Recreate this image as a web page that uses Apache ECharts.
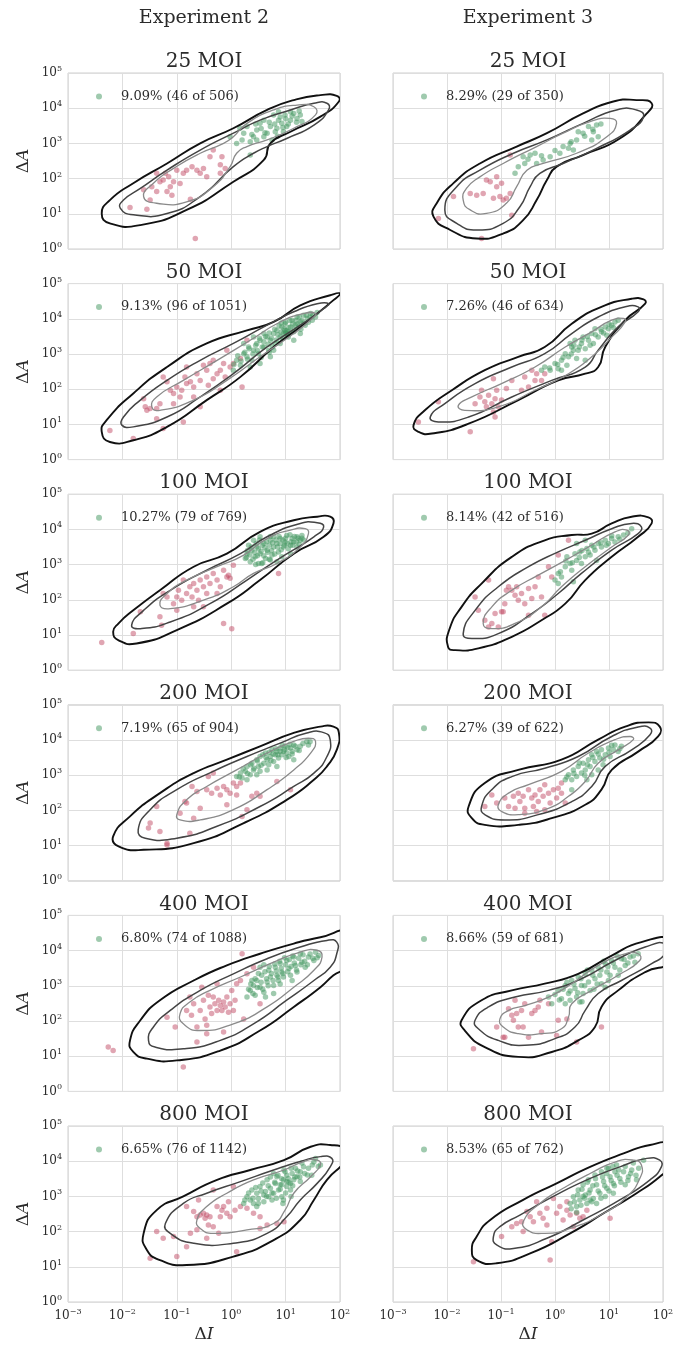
<!DOCTYPE html>
<html>
<head>
<meta charset="utf-8">
<script src="https://cdn.jsdelivr.net/npm/echarts@6/dist/echarts.min.js"></script>
<style>
  html, body { margin: 0; padding: 0; background: #fff; }
  #chart { width: 678px; height: 1349px; }
</style>
</head>
<body>
<div id="chart"></div>
<script>
// Every point and contour vertex is stored as base-10 exponents: [log10 ΔI, log10 ΔA].

const experiments = ['Experiment 2', 'Experiment 3'];
const doses = ['25 MOI', '50 MOI', '100 MOI', '200 MOI', '400 MOI', '800 MOI'];
const exp2Totals = [506, 1051, 769, 904, 1088, 1142];
const exp3Totals = [350, 634, 516, 622, 681, 762];

// ---------- Experiment 2, 25 MOI ----------
const e2m25Red = [[-1.86,1.18],[-1.55,1.13],[-1.61,1.68],[-1.46,1.77],[-1.37,1.63],[-1.31,1.91],[-1.21,2.15],[-1.18,1.63],[-1.12,1.77],[-1.06,1.91],[-1.0,2.24],[-0.94,1.86],[-0.88,2.15],[-0.82,2.24],[-0.72,2.34],[-0.63,2.24],[-0.51,2.29],[-0.39,2.62],[-0.33,2.81],[-0.20,2.39],[-0.17,2.62],[-0.11,2.29],[-0.66,0.30],[-0.75,1.41],[-1.25,1.96],[-1.15,2.05],[-1.37,2.15],[-0.57,2.15],[-0.45,2.05],[-0.20,2.15],[-1.49,1.39],[-1.09,1.53]];
const e2m25Green = [[-0.02,3.19],[0.10,3.0],[0.23,3.29],[0.29,3.48],[0.41,3.19],[0.47,3.38],[0.53,3.57],[0.60,3.66],[0.66,3.29],[0.72,3.48],[0.78,3.81],[0.84,3.43],[0.87,3.66],[0.93,3.57],[0.99,3.81],[1.02,3.48],[1.09,3.66],[1.15,3.85],[1.21,3.71],[1.27,3.81],[1.30,3.62],[0.35,3.05],[0.47,3.10],[0.16,3.43],[0.60,3.19],[0.75,3.10],[0.96,3.33],[0.87,3.90],[0.81,3.33],[1.09,3.90],[0.35,2.67],[0.2,3.1],[0.38,3.25],[0.55,3.42],[0.62,3.3],[0.7,3.6],[0.9,3.75],[0.95,3.45],[1.05,3.55],[1.12,3.78],[1.2,3.6],[1.25,3.92],[0.45,3.55],[0.85,3.2],[0.8,3.55],[1.0,3.7]];
const e2m25Outer = [[-2.38,1.01],[-2.23,0.73],[-1.67,0.68],[-0.82,1.11],[0.04,1.91],[0.60,2.53],[0.72,3.0],[1.09,3.33],[1.64,3.76],[1.98,4.19],[1.94,4.35],[1.64,4.37],[1.15,4.23],[0.66,3.95],[0.04,3.43],[-0.57,3.0],[-1.18,2.43],[-1.80,1.87],[-2.23,1.39]];
const e2m25Mid = [[-2.04,1.16],[-1.80,0.97],[-1.18,1.01],[-0.57,1.49],[0.04,2.34],[0.41,2.72],[0.66,2.91],[1.02,3.14],[1.52,3.52],[1.79,3.95],[1.76,4.14],[1.52,4.14],[1.09,3.95],[0.53,3.66],[0.04,3.29],[-0.57,2.81],[-1.18,2.24],[-1.67,1.72],[-1.98,1.39]];
const e2m25Inner = [[-1.61,1.49],[-1.37,1.30],[-0.82,1.34],[-0.33,1.77],[-0.02,2.34],[0.10,2.72],[0.29,2.91],[0.66,3.10],[1.15,3.43],[1.55,3.81],[1.52,4.04],[1.21,4.09],[0.78,3.95],[0.29,3.57],[0.04,3.19],[-0.14,3.0],[-0.57,2.72],[-1.06,2.29],[-1.43,1.87]];

// ---------- Experiment 3, 25 MOI ----------
const e3m25Red = [[-2.16,0.87],[-1.88,1.49],[-1.57,1.58],[-1.45,1.53],[-1.33,1.58],[-1.27,1.96],[-1.14,1.44],[-1.08,1.77],[-1.02,1.49],[-0.99,1.87],[-0.96,1.39],[-0.90,1.44],[-0.83,1.58],[-0.83,2.67],[-0.80,0.96],[-1.08,2.05],[-1.36,0.30],[-1.20,1.91]];
const e3m25Green = [[-0.74,2.15],[-0.68,2.34],[-0.56,2.43],[-0.46,2.67],[-0.37,2.72],[-0.34,2.43],[-0.22,2.53],[-0.09,2.62],[0.09,2.72],[0.15,2.91],[0.28,3.0],[0.34,2.81],[0.40,3.10],[0.52,3.29],[0.62,3.48],[0.71,3.33],[0.77,3.52],[0.80,3.19],[0.68,3.10],[0.43,3.33],[0.25,2.86],[-0.59,2.62],[-0.5,2.55],[-0.25,2.65],[0.0,2.8],[0.3,3.05],[0.55,3.2],[0.7,3.4],[0.85,3.55]];
const e3m25Outer = [[-2.25,0.92],[-1.94,0.54],[-1.45,0.30],[-0.96,0.44],[-0.59,0.82],[-0.34,1.39],[-0.15,1.96],[0.03,2.34],[0.52,2.67],[1.20,3.14],[1.70,3.85],[1.79,4.14],[1.51,4.23],[1.08,4.19],[0.52,3.85],[-0.15,3.29],[-0.71,2.91],[-1.39,2.43],[-1.88,1.87],[-2.19,1.30]];
const e3m25Mid = [[-2.04,1.11],[-1.82,0.73],[-1.45,0.54],[-0.96,0.73],[-0.65,1.20],[-0.46,1.77],[-0.28,2.15],[0.15,2.43],[0.77,2.86],[1.39,3.38],[1.64,3.76],[1.51,3.95],[1.14,3.95],[0.52,3.57],[-0.15,3.10],[-0.77,2.72],[-1.39,2.24],[-1.82,1.77]];
const e3m25Inner = [[-1.70,1.39],[-1.57,1.11],[-1.27,1.01],[-0.90,1.30],[-0.71,1.77],[-0.52,2.24],[-0.22,2.43],[0.40,2.72],[0.96,3.19],[1.14,3.57],[1.02,3.71],[0.65,3.62],[0.15,3.29],[-0.34,2.91],[-0.96,2.43],[-1.39,2.05],[-1.64,1.72]];

// ---------- Experiment 2, 50 MOI ----------
const e2m50Red = [[-2.23,0.83],[-1.80,0.60],[-1.61,1.73],[-1.58,1.50],[-1.55,1.40],[-1.49,1.45],[-1.37,1.45],[-1.37,1.16],[-1.31,1.59],[-1.25,2.35],[-1.18,2.21],[-1.12,1.97],[-1.06,1.88],[-1.0,2.06],[-0.94,1.78],[-0.91,1.97],[-0.85,2.35],[-0.82,2.16],[-0.75,2.21],[-0.69,2.06],[-0.63,2.44],[-0.57,2.25],[-0.51,2.68],[-0.45,2.54],[-0.42,2.11],[-0.39,2.73],[-0.33,2.82],[-0.26,2.44],[-0.20,2.54],[-0.14,2.73],[-0.11,2.35],[-0.08,3.11],[-0.02,2.63],[0.04,2.73],[0.17,2.87],[0.29,3.39],[-0.57,1.50],[-0.88,1.07],[-1.25,0.88],[-1.06,1.59],[-0.69,1.78],[-0.33,2.30],[-0.82,2.63],[-0.20,1.97],[0.20,2.06]];
const e2m50Green = [[0.04,2.54],[0.10,2.82],[0.17,2.68],[0.23,3.01],[0.29,2.92],[0.32,3.20],[0.38,2.82],[0.41,3.11],[0.47,3.30],[0.50,3.01],[0.53,3.39],[0.60,3.20],[0.66,3.48],[0.69,3.11],[0.72,3.39],[0.78,3.58],[0.81,3.30],[0.84,3.67],[0.90,3.48],[0.93,3.77],[0.96,3.58],[0.99,3.86],[1.02,3.67],[1.05,3.48],[1.09,3.77],[1.12,3.96],[1.15,3.63],[1.18,3.82],[1.21,4.05],[1.24,3.77],[1.27,3.91],[1.33,4.10],[1.36,3.82],[1.40,4.01],[1.46,4.15],[1.49,3.96],[1.55,4.05],[0.99,3.67],[1.05,3.63],[1.02,3.58],[0.60,3.58],[0.41,3.48],[0.23,3.30],[0.78,3.11],[0.90,3.30],[0.53,2.73],[0.72,2.92],[0.35,2.63],[1.15,3.39],[1.27,3.58],[0.05,2.7],[0.12,2.95],[0.18,2.8],[0.25,3.05],[0.3,2.85],[0.33,3.15],[0.4,3.0],[0.45,3.25],[0.48,3.1],[0.52,3.45],[0.57,3.2],[0.6,3.35],[0.63,3.5],[0.68,3.28],[0.7,3.6],[0.74,3.45],[0.76,3.2],[0.8,3.7],[0.83,3.4],[0.86,3.55],[0.88,3.8],[0.92,3.62],[0.95,3.45],[0.97,3.72],[1.0,3.9],[1.03,3.55],[1.06,3.75],[1.08,3.95],[1.1,3.62],[1.13,3.85],[1.16,3.7],[1.19,3.95],[1.22,3.85],[1.25,4.05],[1.28,3.7],[1.3,3.95],[1.34,3.88],[1.38,4.1],[1.42,3.9],[1.45,4.05],[1.5,4.1],[1.58,4.18],[0.92,3.88],[1.0,3.6],[0.7,3.05],[0.55,2.9]];
const e2m50Outer = [[-2.38,0.79],[-2.23,0.50],[-1.80,0.55],[-1.18,0.93],[-0.45,1.69],[0.17,2.35],[0.78,3.20],[1.27,3.77],[1.88,4.53],[2.0,4.72],[1.82,4.67],[1.27,4.38],[0.78,3.91],[0.29,3.67],[-0.45,3.30],[-1.18,2.63],[-1.80,1.88],[-2.29,1.12]];
const e2m50Mid = [[-2.01,0.98],[-1.80,0.93],[-1.18,1.21],[-0.57,1.78],[0.04,2.44],[0.66,3.20],[1.27,3.82],[1.70,4.29],[1.79,4.43],[1.58,4.43],[1.15,4.20],[0.66,3.82],[0.04,3.30],[-0.57,2.82],[-1.18,2.25],[-1.67,1.69],[-1.98,1.21]];
const e2m50Inner = [[-1.46,1.50],[-1.31,1.40],[-0.69,1.69],[-0.08,2.25],[0.53,2.92],[1.15,3.58],[1.49,4.01],[1.55,4.15],[1.33,4.15],[0.90,3.91],[0.35,3.39],[-0.26,2.82],[-0.88,2.25],[-1.37,1.78]];

// ---------- Experiment 3, 50 MOI ----------
const e3m50Red = [[-2.53,1.07],[-2.16,1.64],[-1.57,0.79],[-1.48,1.59],[-1.39,1.78],[-1.36,1.97],[-1.30,1.64],[-1.27,1.50],[-1.23,1.83],[-1.17,1.59],[-1.14,1.35],[-1.11,1.73],[-1.08,1.97],[-1.05,1.50],[-1.14,2.30],[-0.99,1.69],[-0.90,2.02],[-0.80,2.25],[-0.62,1.97],[-0.56,2.35],[-0.49,2.06],[-0.43,2.54],[-0.37,2.25],[-0.25,2.25],[-0.19,2.44],[-1.11,1.21],[-0.34,2.44]];
const e3m50Green = [[-0.25,2.54],[-0.19,2.63],[-0.09,2.54],[0.0,2.73],[0.06,2.58],[0.12,2.82],[0.19,3.01],[0.25,2.92],[0.31,3.20],[0.34,3.11],[0.37,3.39],[0.43,3.11],[0.49,3.30],[0.52,3.48],[0.56,3.15],[0.62,3.39],[0.68,3.58],[0.71,3.30],[0.80,3.48],[0.86,3.63],[0.93,3.77],[0.96,3.53],[1.05,3.82],[1.11,3.91],[1.17,3.96],[0.28,3.30],[0.40,2.87],[0.12,2.54],[0.74,3.72],[0.99,3.72],[0.22,2.68],[0.56,2.82],[-0.1,2.6],[0.05,2.7],[0.15,2.9],[0.3,3.0],[0.35,3.25],[0.45,3.2],[0.5,3.4],[0.6,3.5],[0.65,3.25],[0.75,3.55],[0.85,3.7],[0.9,3.6],[1.0,3.85],[1.08,3.75]];
const e3m50Outer = [[-2.62,0.98],[-2.53,0.79],[-2.28,0.74],[-1.60,1.02],[-0.68,1.69],[0.06,2.25],[0.56,2.44],[0.80,2.63],[0.93,3.20],[1.30,3.96],[1.67,4.43],[1.64,4.55],[1.42,4.57],[0.86,4.34],[0.31,3.86],[-0.19,3.20],[-0.68,2.92],[-1.30,2.54],[-1.91,1.97],[-2.41,1.40]];
const e3m50Mid = [[-2.31,1.21],[-2.16,1.07],[-1.60,1.21],[-0.80,1.78],[-0.06,2.25],[0.56,2.63],[0.80,3.11],[1.17,3.77],[1.54,4.20],[1.54,4.34],[1.30,4.34],[0.80,4.05],[0.31,3.58],[-0.19,3.01],[-0.80,2.63],[-1.48,2.16],[-2.04,1.59]];
const e3m50Inner = [[-1.79,1.54],[-1.67,1.40],[-1.05,1.50],[-0.37,1.97],[0.25,2.44],[0.68,2.92],[1.05,3.48],[1.30,3.91],[1.27,4.01],[1.05,3.96],[0.68,3.63],[0.19,3.20],[-0.37,2.63],[-0.99,2.16],[-1.54,1.78]];

// ---------- Experiment 2, 100 MOI ----------
const e2m100Red = [[-2.38,0.79],[-1.80,1.04],[-1.67,1.66],[-1.31,1.52],[-1.28,1.28],[-1.25,2.18],[-1.18,2.08],[-1.06,1.89],[-1.0,2.08],[-0.97,2.27],[-0.91,1.99],[-0.88,2.56],[-0.82,2.18],[-0.76,2.37],[-0.72,2.08],[-0.69,2.46],[-0.63,2.27],[-0.60,1.99],[-0.57,2.56],[-0.51,2.37],[-0.45,2.18],[-0.45,2.65],[-0.39,2.46],[-0.33,2.75],[-0.26,2.56],[-0.20,2.37],[-0.14,2.84],[-0.08,2.65],[-0.05,2.70],[-0.02,2.61],[0.04,2.98],[-0.14,1.33],[0.01,1.18],[-0.69,1.80],[-1.0,1.70],[0.87,2.75],[-0.26,2.18],[-0.51,1.80]];
const e2m100Green = [[0.26,3.17],[0.29,3.31],[0.35,3.08],[0.38,3.41],[0.44,3.22],[0.47,3.50],[0.50,3.03],[0.53,3.31],[0.60,3.60],[0.63,3.17],[0.66,3.41],[0.72,3.69],[0.75,3.27],[0.78,3.50],[0.84,3.60],[0.87,3.36],[0.90,3.74],[0.96,3.50],[0.99,3.64],[1.02,3.83],[1.09,3.55],[1.12,3.74],[1.15,3.64],[1.21,3.79],[1.27,3.69],[1.30,3.83],[0.41,3.69],[0.53,3.79],[0.78,3.79],[0.93,3.22],[0.56,3.03],[0.84,3.08],[1.09,3.31],[0.72,3.13],[1.21,3.50],[0.32,3.55],[0.28,3.2],[0.3,3.4],[0.34,3.28],[0.37,3.5],[0.4,3.15],[0.43,3.35],[0.46,3.6],[0.48,3.25],[0.5,3.45],[0.52,3.7],[0.55,3.38],[0.57,3.55],[0.6,3.25],[0.62,3.48],[0.65,3.65],[0.67,3.35],[0.7,3.55],[0.72,3.8],[0.74,3.4],[0.76,3.62],[0.8,3.3],[0.82,3.7],[0.85,3.5],[0.88,3.8],[0.9,3.6],[0.92,3.42],[0.95,3.7],[0.98,3.55],[1.0,3.75],[1.03,3.6],[1.05,3.45],[1.08,3.85],[1.1,3.65],[1.13,3.55],[1.16,3.8],[1.2,3.65],[1.23,3.75],[1.25,3.58],[1.3,3.75],[1.33,3.7],[0.58,3.05],[0.45,3.0],[0.7,3.15]];
const e2m100Outer = [[-2.17,1.09],[-2.07,0.85],[-1.74,0.76],[-1.0,1.14],[-0.08,1.89],[0.53,2.56],[1.15,3.31],[1.70,3.79],[1.88,4.17],[1.82,4.36],[1.58,4.36],[1.15,4.26],[0.53,3.93],[-0.08,3.31],[-0.69,2.94],[-1.31,2.27],[-1.80,1.70],[-2.07,1.33]];
const e2m100Mid = [[-1.83,1.28],[-1.67,1.18],[-1.12,1.37],[-0.39,1.89],[0.29,2.56],[0.84,3.13],[1.52,3.79],[1.70,4.07],[1.58,4.19],[1.27,4.17],[0.66,3.79],[0.17,3.31],[-0.45,2.84],[-1.12,2.27],[-1.61,1.70]];
const e2m100Inner = [[-1.31,1.85],[-1.12,1.75],[-0.51,1.99],[0.04,2.37],[0.41,2.75],[0.84,3.03],[1.27,3.50],[1.42,3.88],[1.36,4.02],[1.09,3.98],[0.66,3.74],[0.23,3.27],[-0.26,2.94],[-0.82,2.56],[-1.18,2.18]];

// ---------- Experiment 3, 100 MOI ----------
const e3m100Red = [[-1.48,2.08],[-1.42,1.70],[-1.30,1.42],[-1.23,1.23],[-1.17,1.33],[-1.05,1.23],[-1.11,1.61],[-0.99,1.66],[-0.93,1.89],[-0.90,2.27],[-0.86,2.37],[-0.80,2.27],[-0.74,2.13],[-0.71,2.37],[-0.68,1.99],[-0.62,2.18],[-0.56,1.89],[-0.49,2.32],[-0.43,2.04],[-0.37,2.37],[-0.31,2.65],[-0.25,2.08],[-0.19,1.56],[-0.12,2.94],[-0.06,2.65],[0.06,3.27],[0.25,3.69],[-0.49,1.56],[-1.23,2.56],[-0.96,1.66]];
const e3m100Green = [[0.0,2.56],[0.06,2.75],[0.12,2.65],[0.19,2.94],[0.22,3.22],[0.28,3.03],[0.31,2.84],[0.37,3.31],[0.40,3.12],[0.46,3.36],[0.49,3.03],[0.56,3.22],[0.59,3.46],[0.65,3.27],[0.68,3.55],[0.74,3.41],[0.80,3.60],[0.86,3.50],[0.93,3.69],[0.99,3.60],[1.05,3.74],[1.11,3.64],[1.17,3.79],[1.27,3.84],[1.42,4.02],[0.34,2.51],[0.06,2.46],[0.77,3.12],[0.56,3.69],[0.40,3.60],[0.1,2.8],[0.2,3.1],[0.32,3.05],[0.45,3.2],[0.5,3.4],[0.62,3.35],[0.72,3.5],[0.85,3.62],[0.95,3.55],[1.05,3.82],[1.2,3.72],[1.35,3.9]];
const e3m100Outer = [[-1.98,0.66],[-1.85,0.57],[-1.42,0.62],[-0.80,0.95],[-0.25,1.42],[0.19,1.89],[0.56,2.56],[1.05,3.22],[1.54,3.79],[1.79,4.17],[1.73,4.34],[1.42,4.36],[1.05,4.17],[0.68,3.88],[0.31,3.84],[-0.19,3.69],[-0.80,3.22],[-1.36,2.46],[-1.73,1.80],[-1.96,1.14]];
const e3m100Mid = [[-1.70,1.04],[-1.54,0.90],[-1.05,1.04],[-0.43,1.61],[0.06,2.18],[0.49,2.75],[1.05,3.41],[1.54,3.88],[1.60,4.07],[1.42,4.17],[1.05,4.02],[0.56,3.69],[0.06,3.36],[-0.49,2.94],[-1.05,2.37],[-1.48,1.70]];
const e3m100Inner = [[-1.33,1.33],[-1.17,1.18],[-0.74,1.33],[-0.25,1.80],[0.12,2.37],[0.56,2.94],[1.05,3.50],[1.36,3.84],[1.33,3.98],[1.11,3.93],[0.62,3.50],[0.19,3.12],[-0.31,2.70],[-0.80,2.27],[-1.17,1.80]];

// ---------- Experiment 2, 200 MOI ----------
const e2m200Red = [[-1.49,1.64],[-1.52,1.50],[-1.37,2.11],[-1.31,1.40],[-1.18,1.07],[-1.18,1.02],[-0.85,2.25],[-0.82,2.21],[-0.72,2.68],[-0.69,1.78],[-0.76,1.35],[-0.57,2.06],[-0.45,2.59],[-0.42,2.96],[-0.36,2.49],[-0.26,2.63],[-0.20,2.44],[-0.14,2.68],[-0.08,2.59],[-0.02,2.49],[-0.08,2.16],[0.04,2.78],[0.10,2.68],[0.17,2.78],[0.20,1.83],[0.29,2.02],[0.38,2.40],[0.47,2.49],[0.53,2.40],[0.84,2.82],[1.09,2.59],[-0.33,3.06],[-0.63,2.54],[-0.94,1.92],[0.10,2.44]];
const e2m200Green = [[0.10,2.96],[0.17,3.06],[0.20,2.92],[0.26,3.11],[0.29,3.25],[0.35,3.01],[0.38,3.34],[0.41,3.15],[0.47,3.44],[0.50,3.25],[0.53,3.53],[0.60,3.34],[0.63,3.63],[0.66,3.44],[0.72,3.53],[0.75,3.72],[0.78,3.39],[0.81,3.58],[0.84,3.67],[0.87,3.49],[0.90,3.77],[0.93,3.58],[0.96,3.67],[0.99,3.82],[1.02,3.63],[1.06,3.53],[1.09,3.77],[1.12,3.67],[1.15,3.86],[1.21,3.72],[1.27,3.82],[1.39,3.96],[1.42,3.86],[0.47,3.01],[0.66,3.15],[0.29,2.87],[0.69,3.30],[0.53,3.11],[1.15,3.44],[0.84,3.25],[0.15,2.95],[0.22,3.18],[0.3,3.05],[0.36,3.3],[0.42,3.2],[0.48,3.4],[0.55,3.28],[0.58,3.58],[0.64,3.5],[0.7,3.65],[0.73,3.42],[0.77,3.6],[0.82,3.75],[0.86,3.58],[0.9,3.68],[0.94,3.85],[0.98,3.72],[1.01,3.5],[1.04,3.78],[1.08,3.88],[1.12,3.6],[1.18,3.82],[1.25,3.7],[1.32,3.9],[1.45,3.95]];
const e2m200Outer = [[-2.17,1.26],[-2.07,0.98],[-1.61,0.88],[-0.69,1.07],[0.23,1.64],[1.02,2.30],[1.52,2.87],[1.76,3.25],[1.94,3.72],[1.98,4.20],[1.88,4.38],[1.64,4.38],[1.15,4.20],[0.53,3.82],[-0.08,3.44],[-0.69,3.06],[-1.31,2.49],[-1.86,1.83]];
const e2m200Mid = [[-1.71,1.45],[-1.58,1.21],[-1.0,1.21],[-0.26,1.55],[0.53,2.11],[1.15,2.68],[1.52,3.06],[1.76,3.53],[1.82,4.01],[1.70,4.21],[1.39,4.20],[0.90,3.91],[0.29,3.53],[-0.33,3.11],[-1.0,2.59],[-1.49,2.02]];
const e2m200Inner = [[-1.0,1.88],[-0.94,1.73],[-0.57,1.73],[0.04,2.02],[0.66,2.59],[1.15,3.15],[1.46,3.63],[1.55,3.96],[1.42,4.05],[1.15,3.96],[0.66,3.63],[0.10,3.15],[-0.45,2.68],[-0.82,2.30]];

// ---------- Experiment 3, 200 MOI ----------
const e3m200Red = [[-1.30,2.11],[-1.17,2.44],[-1.08,2.21],[-0.93,2.35],[-0.86,2.11],[-0.77,2.40],[-0.74,2.06],[-0.68,2.49],[-0.65,2.25],[-0.59,2.40],[-0.56,2.06],[-0.49,2.59],[-0.43,2.35],[-0.40,2.11],[-0.37,2.44],[-0.31,2.25],[-0.28,2.59],[-0.22,2.40],[-0.19,2.73],[-0.12,2.49],[-0.09,2.21],[-0.03,2.59],[0.03,2.35],[0.06,2.63],[0.12,2.49],[0.19,2.21],[-0.19,2.02],[-0.56,1.92],[-0.34,1.97],[0.12,2.78]];
const e3m200Green = [[0.19,2.87],[0.25,3.01],[0.31,2.87],[0.34,3.15],[0.40,2.96],[0.43,3.25],[0.49,3.06],[0.52,3.34],[0.56,3.15],[0.62,3.44],[0.65,3.25],[0.68,3.58],[0.74,3.39],[0.77,3.67],[0.83,3.49],[0.86,3.72],[0.93,3.58],[0.99,3.77],[1.02,3.53],[1.08,3.72],[1.11,3.86],[1.17,3.67],[1.23,3.82],[0.59,2.87],[0.80,3.15],[0.31,2.59],[0.68,3.01],[0.89,3.30],[0.22,2.95],[0.35,3.05],[0.45,3.35],[0.55,3.0],[0.6,3.3],[0.7,3.5],[0.8,3.6],[0.9,3.45],[1.0,3.65],[1.05,3.85],[1.2,3.75]];
const e3m200Outer = [[-1.60,2.11],[-1.54,1.78],[-1.30,1.59],[-0.68,1.59],[-0.06,1.78],[0.56,2.16],[0.86,2.59],[1.05,3.15],[1.54,3.67],[1.91,4.10],[1.94,4.38],[1.73,4.50],[1.30,4.38],[0.80,4.01],[0.12,3.44],[-0.68,3.15],[-1.30,2.78]];
const e3m200Mid = [[-1.36,2.11],[-1.30,1.88],[-0.93,1.73],[-0.31,1.88],[0.31,2.25],[0.68,2.68],[0.93,3.25],[1.42,3.72],[1.76,4.15],[1.76,4.34],[1.54,4.37],[1.05,4.10],[0.43,3.53],[-0.19,3.20],[-0.80,2.96],[-1.17,2.59]];
const e3m200Inner = [[-1.05,2.16],[-0.99,1.97],[-0.68,1.88],[-0.12,2.06],[0.25,2.40],[0.56,2.82],[0.80,3.34],[1.17,3.72],[1.45,4.01],[1.39,4.10],[1.11,4.01],[0.62,3.63],[0.12,3.11],[-0.49,2.73],[-0.86,2.49]];

// ---------- Experiment 2, 400 MOI ----------
const e2m400Red = [[-2.26,1.26],[-2.17,1.16],[-1.18,2.11],[-1.03,1.83],[-0.88,0.69],[-0.82,2.30],[-0.76,2.68],[-0.73,2.16],[-0.69,2.49],[-0.63,1.83],[-0.57,2.30],[-0.54,2.96],[-0.51,2.59],[-0.48,2.06],[-0.45,1.64],[-0.42,2.73],[-0.39,2.40],[-0.36,2.21],[-0.33,2.68],[-0.30,2.49],[-0.26,2.30],[-0.23,2.59],[-0.20,2.44],[-0.17,2.30],[-0.14,2.54],[-0.11,2.40],[-0.08,2.68],[-0.05,2.25],[-0.02,2.49],[0.01,2.87],[0.04,2.30],[0.07,2.59],[0.10,3.06],[0.17,3.15],[0.20,3.91],[0.23,2.06],[0.29,3.34],[-0.14,1.69],[-0.63,1.40],[-0.26,3.06],[0.41,3.53],[0.53,2.49],[-0.45,1.88]];
const e2m400Green = [[0.29,2.68],[0.35,2.87],[0.41,3.01],[0.44,2.73],[0.47,3.15],[0.53,2.96],[0.56,3.30],[0.60,2.82],[0.66,3.11],[0.69,3.44],[0.72,3.25],[0.78,3.01],[0.81,3.53],[0.84,3.30],[0.87,3.15],[0.90,3.63],[0.93,3.39],[0.96,3.25],[1.02,3.72],[1.06,3.49],[1.09,3.30],[1.15,3.82],[1.18,3.58],[1.21,3.39],[1.27,3.91],[1.30,3.67],[1.36,3.53],[1.42,3.82],[1.52,3.72],[1.61,3.86],[0.63,2.68],[0.78,2.78],[0.38,3.15],[1.12,3.15],[0.53,3.53],[0.32,2.9],[0.36,3.05],[0.4,2.78],[0.44,3.2],[0.48,2.95],[0.5,3.35],[0.55,3.1],[0.58,2.9],[0.62,3.4],[0.65,3.2],[0.68,3.0],[0.7,3.55],[0.74,3.35],[0.77,3.15],[0.8,3.62],[0.83,3.42],[0.86,3.25],[0.89,3.7],[0.92,3.5],[0.95,3.35],[0.98,3.8],[1.0,3.6],[1.04,3.4],[1.07,3.75],[1.1,3.55],[1.13,3.85],[1.16,3.65],[1.2,3.45],[1.24,3.78],[1.28,3.6],[1.32,3.88],[1.35,3.7],[1.4,3.6],[1.45,3.9],[1.5,3.78],[1.55,3.95],[1.58,3.8],[0.9,3.05],[0.6,3.6]];
const e2m400Outer = [[-1.86,1.45],[-1.80,1.12],[-1.55,0.93],[-1.0,0.88],[-0.20,1.16],[0.53,1.73],[1.15,2.40],[1.64,2.96],[1.88,3.30],[2.15,3.60],[2.15,4.50],[1.64,4.38],[1.15,4.20],[0.53,3.91],[-0.08,3.58],[-0.69,3.15],[-1.31,2.59],[-1.67,2.02]];
const e2m400Mid = [[-1.52,1.45],[-1.40,1.26],[-0.88,1.21],[-0.20,1.45],[0.41,1.92],[1.02,2.59],[1.52,3.15],[1.82,3.53],[1.94,3.91],[1.94,4.24],[1.76,4.29],[1.27,4.10],[0.66,3.77],[0.04,3.34],[-0.57,2.87],[-1.12,2.30],[-1.43,1.83]];
const e2m400Inner = [[-0.94,2.21],[-0.88,1.92],[-0.57,1.73],[0.04,1.92],[0.66,2.40],[1.15,2.96],[1.52,3.44],[1.67,3.82],[1.58,4.01],[1.27,3.96],[0.78,3.67],[0.17,3.25],[-0.39,2.87],[-0.76,2.54]];

// ---------- Experiment 3, 400 MOI ----------
const e3m400Red = [[-1.51,1.21],[-1.08,1.83],[-0.96,1.54],[-0.86,2.35],[-0.80,2.16],[-0.77,2.02],[-0.74,2.59],[-0.71,2.21],[-0.68,1.83],[-0.62,2.30],[-0.56,2.49],[-0.49,1.54],[-0.43,2.21],[-0.37,2.30],[-0.31,2.40],[-0.28,2.59],[-0.25,1.69],[-0.12,2.49],[0.03,1.59],[0.06,2.02],[0.22,2.06],[0.40,1.40],[0.86,1.83],[-0.93,1.54],[-0.59,1.83]];
const e3m400Green = [[-0.12,2.68],[-0.06,2.49],[0.06,2.87],[0.12,2.63],[0.19,3.01],[0.25,2.78],[0.28,2.59],[0.31,3.15],[0.37,2.92],[0.40,2.68],[0.43,3.25],[0.49,3.01],[0.52,2.78],[0.56,3.34],[0.62,3.11],[0.65,2.87],[0.68,3.44],[0.74,3.20],[0.80,3.53],[0.83,3.30],[0.86,3.06],[0.93,3.63],[0.96,3.39],[0.99,3.15],[1.05,3.72],[1.11,3.53],[1.17,3.30],[1.23,3.77],[1.30,3.58],[1.39,3.82],[1.48,3.67],[1.54,3.91],[0.46,2.54],[0.93,2.96],[0.19,2.49],[0.0,2.75],[0.08,2.6],[0.15,2.9],[0.22,3.1],[0.28,2.85],[0.35,3.05],[0.42,2.8],[0.48,3.2],[0.55,3.0],[0.6,3.45],[0.7,3.3],[0.78,3.05],[0.85,3.45],[0.9,3.7],[0.98,3.55],[1.02,3.3],[1.08,3.65],[1.15,3.85],[1.2,3.45],[1.28,3.75],[1.35,3.65],[1.45,3.85],[0.72,2.9],[0.5,2.55]];
const e3m400Outer = [[-1.73,2.02],[-1.67,1.73],[-1.30,1.26],[-0.68,0.98],[-0.06,1.12],[0.43,1.45],[0.74,1.83],[0.86,2.40],[1.17,2.87],[1.67,3.39],[2.15,3.70],[2.15,4.30],[1.60,4.24],[1.05,3.86],[0.43,3.34],[-0.19,3.06],[-0.80,2.87],[-1.36,2.59]];
const e3m400Mid = [[-1.48,2.02],[-1.42,1.78],[-1.05,1.45],[-0.56,1.31],[0.0,1.50],[0.37,1.83],[0.56,2.30],[0.80,2.78],[1.23,3.15],[1.79,3.63],[2.04,3.91],[2.04,4.20],[1.67,4.10],[1.11,3.72],[0.49,3.20],[-0.12,2.87],[-0.74,2.68],[-1.23,2.40]];
const e3m400Inner = [[-1.02,2.06],[-0.96,1.83],[-0.68,1.64],[-0.25,1.64],[0.12,1.78],[0.25,2.11],[0.31,2.49],[0.68,2.87],[1.17,3.30],[1.57,3.72],[1.54,3.91],[1.30,3.91],[0.80,3.58],[0.31,3.06],[-0.12,2.68],[-0.56,2.44],[-0.86,2.30]];

// ---------- Experiment 2, 800 MOI ----------
const e2m800Red = [[-1.49,1.24],[-1.37,2.0],[-1.25,1.81],[-1.06,1.86],[-1.0,1.29],[-0.82,2.71],[-0.75,1.95],[-0.69,2.57],[-0.63,2.42],[-0.60,2.90],[-0.57,2.47],[-0.51,2.52],[-0.48,2.38],[-0.45,2.47],[-0.42,2.19],[-0.39,2.42],[-0.33,3.18],[-0.26,2.71],[-0.23,1.95],[-0.20,2.42],[-0.17,2.61],[-0.14,2.71],[-0.08,2.52],[-0.05,2.85],[-0.02,2.42],[0.04,3.28],[0.07,2.61],[0.10,1.43],[0.17,2.71],[0.29,2.66],[0.41,2.52],[0.53,2.42],[0.53,2.09],[0.66,2.19],[0.84,2.23],[0.97,2.28],[-0.82,1.57],[-0.33,2.14],[-0.63,2.05],[-0.45,1.81]];
const e2m800Green = [[0.23,2.80],[0.29,2.99],[0.35,2.90],[0.38,3.18],[0.41,2.80],[0.47,3.09],[0.50,2.94],[0.53,3.28],[0.60,2.85],[0.63,3.14],[0.66,3.47],[0.69,2.99],[0.72,3.23],[0.78,3.09],[0.81,3.37],[0.84,3.56],[0.87,3.18],[0.90,3.33],[0.93,2.99],[0.96,3.47],[0.99,3.70],[1.02,3.28],[1.05,3.51],[1.09,3.37],[1.12,3.65],[1.15,3.47],[1.18,3.80],[1.21,3.56],[1.27,3.70],[1.33,3.84],[1.40,3.61],[1.49,3.89],[1.55,4.08],[1.64,3.89],[0.60,3.04],[0.75,2.90],[0.96,2.90],[1.09,3.18],[0.93,3.33],[1.02,3.42],[1.27,3.42],[0.78,3.65],[0.47,2.71],[0.25,2.9],[0.32,3.1],[0.4,2.95],[0.45,3.25],[0.5,2.8],[0.55,3.15],[0.58,3.38],[0.65,3.0],[0.68,3.3],[0.72,3.55],[0.75,3.1],[0.8,3.4],[0.83,2.95],[0.86,3.6],[0.9,3.2],[0.93,3.5],[0.97,3.75],[1.0,3.1],[1.02,3.6],[1.06,3.4],[1.1,3.8],[1.13,3.3],[1.17,3.55],[1.22,3.72],[1.26,3.55],[1.3,3.95],[1.35,3.65],[1.42,3.8],[1.48,3.6],[1.52,3.98],[1.6,3.85],[0.95,2.8],[1.1,3.0]];
const e2m800Outer = [[-1.61,1.95],[-1.55,1.48],[-1.31,1.19],[-0.82,1.05],[0.04,1.29],[0.78,1.76],[1.27,2.33],[1.52,2.90],[1.76,3.47],[2.1,4.03],[2.1,4.32],[1.82,4.46],[1.46,4.41],[0.97,4.03],[0.35,3.75],[-0.26,3.47],[-0.88,3.0],[-1.37,2.61]];
const e2m800Mid = [[-1.21,2.23],[-1.12,1.95],[-0.69,1.67],[0.04,1.67],[0.66,1.95],[1.02,2.42],[1.27,2.90],[1.58,3.37],[1.82,3.84],[1.85,4.08],[1.64,4.13],[1.27,3.99],[0.78,3.75],[0.17,3.42],[-0.45,3.09],[-0.88,2.80]];
const e2m800Inner = [[-0.63,2.33],[-0.57,2.09],[-0.33,1.95],[0.29,2.05],[0.78,2.23],[0.99,2.61],[1.15,3.09],[1.46,3.56],[1.64,3.89],[1.58,4.03],[1.33,3.99],[0.97,3.75],[0.41,3.47],[-0.08,3.09],[-0.45,2.71]];

// ---------- Experiment 3, 800 MOI ----------
const e3m800Red = [[-1.51,1.14],[-0.99,1.86],[-0.80,2.14],[-0.71,2.23],[-0.62,2.28],[-0.52,2.57],[-0.46,2.42],[-0.40,2.28],[-0.34,2.85],[-0.28,2.52],[-0.22,2.38],[-0.15,2.66],[-0.09,1.19],[-0.06,1.71],[-0.03,2.94],[0.03,2.52],[0.09,2.71],[0.15,2.33],[0.22,2.61],[0.28,2.47],[0.34,2.14],[0.40,2.52],[0.46,2.38],[0.52,2.42],[0.59,2.61],[1.02,2.38],[-0.59,2.0],[-0.15,2.19],[0.22,2.85]];
const e3m800Green = [[0.28,2.80],[0.34,2.99],[0.40,2.71],[0.43,3.18],[0.46,2.90],[0.52,3.33],[0.56,3.04],[0.59,2.80],[0.62,3.47],[0.65,3.18],[0.71,2.94],[0.74,3.61],[0.77,3.33],[0.83,3.09],[0.86,3.70],[0.90,3.42],[0.96,3.23],[0.99,3.80],[1.02,3.56],[1.08,3.37],[1.11,3.70],[1.14,3.89],[1.20,3.51],[1.27,3.70],[1.30,3.33],[1.36,3.56],[1.42,3.75],[1.51,3.47],[1.64,4.03],[0.52,3.0],[0.65,2.90],[0.77,2.80],[0.93,3.0],[1.08,3.09],[0.96,3.80],[0.3,2.65],[0.36,2.85],[0.42,3.05],[0.48,2.75],[0.5,3.2],[0.55,2.95],[0.6,3.4],[0.63,3.1],[0.68,2.85],[0.7,3.3],[0.75,3.5],[0.8,3.15],[0.85,2.95],[0.88,3.55],[0.92,3.3],[0.95,3.65],[1.0,3.15],[1.04,3.45],[1.07,3.85],[1.1,3.3],[1.15,3.6],[1.18,3.75],[1.22,3.4],[1.3,3.85],[1.35,3.45],[1.4,3.65],[1.45,3.95],[1.5,3.6],[1.55,3.8],[0.4,2.55]];
const e3m800Outer = [[-1.54,1.48],[-1.45,1.19],[-1.08,1.10],[-0.46,1.38],[0.28,1.95],[0.90,2.52],[1.51,3.09],[1.94,3.56],[2.1,3.84],[2.1,4.46],[1.76,4.46],[1.27,4.22],[0.65,3.84],[0.03,3.37],[-0.59,2.90],[-1.20,2.33],[-1.45,1.86]];
const e3m800Mid = [[-1.14,1.86],[-1.08,1.62],[-0.77,1.52],[-0.15,1.81],[0.52,2.33],[1.20,2.90],[1.76,3.47],[1.97,3.84],[1.94,4.03],[1.70,4.08],[1.20,3.84],[0.59,3.47],[-0.03,3.0],[-0.65,2.47],[-1.02,2.14]];
const e3m800Inner = [[-0.59,2.28],[-0.52,2.05],[-0.22,1.95],[0.28,2.09],[0.90,2.52],[1.33,2.99],[1.57,3.51],[1.60,3.89],[1.45,4.03],[1.14,3.99],[0.65,3.65],[0.15,3.23],[-0.28,2.80]];

// Panels by [column][row]
const panelData = [
  [
    [e2m25Red, e2m25Green, e2m25Outer, e2m25Mid, e2m25Inner],
    [e2m50Red, e2m50Green, e2m50Outer, e2m50Mid, e2m50Inner],
    [e2m100Red, e2m100Green, e2m100Outer, e2m100Mid, e2m100Inner],
    [e2m200Red, e2m200Green, e2m200Outer, e2m200Mid, e2m200Inner],
    [e2m400Red, e2m400Green, e2m400Outer, e2m400Mid, e2m400Inner],
    [e2m800Red, e2m800Green, e2m800Outer, e2m800Mid, e2m800Inner]
  ],
  [
    [e3m25Red, e3m25Green, e3m25Outer, e3m25Mid, e3m25Inner],
    [e3m50Red, e3m50Green, e3m50Outer, e3m50Mid, e3m50Inner],
    [e3m100Red, e3m100Green, e3m100Outer, e3m100Mid, e3m100Inner],
    [e3m200Red, e3m200Green, e3m200Outer, e3m200Mid, e3m200Inner],
    [e3m400Red, e3m400Green, e3m400Outer, e3m400Mid, e3m400Inner],
    [e3m800Red, e3m800Green, e3m800Outer, e3m800Mid, e3m800Inner]
  ]
];
const totals = [exp2Totals, exp3Totals];

// ---------- layout & style ----------
const FONT = 'DejaVu Serif';
const TEXT = '#2b2b2b';
const colLeft = [68, 393];
const colWidth = [272, 270];
const rowTop0 = 73;
const rowStep = 210.6;
const panelH = 176;
const RED = '#c24b66';
const GREEN = '#3f965d';
const contourStyles = [
  { color: '#111111', width: 1.9 },
  { color: '#444444', width: 1.5 },
  { color: '#8a8a8a', width: 1.3 }
];

const toLinear = pts => pts.map(p => [Math.pow(10, p[0]), Math.pow(10, p[1])]);

function powLabel(v) {
  const e = Math.round(Math.log10(v));
  return '{b|10}{s|' + (e < 0 ? '\u2212' + (-e) : e) + '}';
}
const powRich = {
  b: { fontFamily: FONT, fontSize: 12, color: TEXT },
  s: { fontFamily: FONT, fontSize: 8, color: TEXT, verticalAlign: 'bottom', padding: [0, 0, 8, 0] }
};
const nameStyle = {
  rich: {
    d: { fontFamily: FONT, fontSize: 17, color: TEXT },
    i: { fontFamily: FONT, fontSize: 17, fontStyle: 'italic', color: TEXT }
  }
};

// A closed density contour: its vertices go through the axes' log scales
// and are joined into one smooth closed path.
function contourSeries(ring, idx, style, name) {
  return {
    type: 'custom', name: name, xAxisIndex: idx, yAxisIndex: idx,
    data: toLinear(ring), clip: true, silent: true, z: 3,
    encode: { x: 0, y: 1 },
    renderItem: function (params, api) {
      if (params.dataIndex !== 0) return null;
      const pts = ring.map(v => api.coord([Math.pow(10, v[0]), Math.pow(10, v[1])]));
      return {
        type: 'polygon',
        shape: { points: pts, smooth: 0.55 },
        style: { fill: null, stroke: style.color, lineWidth: style.width }
      };
    }
  };
}

const grids = [], xAxes = [], yAxes = [], series = [], legends = [], graphics = [];

experiments.forEach((exp, c) => {
  graphics.push({
    type: 'text', x: colLeft[c] + colWidth[c] / 2, y: 18,
    style: { text: exp, fontFamily: FONT, fontSize: 19, fill: TEXT, textAlign: 'center', textVerticalAlign: 'middle' }
  });
  doses.forEach((dose, r) => {
    const idx = grids.length;
    const top = rowTop0 + r * rowStep;
    const isBottom = r === doses.length - 1;
    const isLeft = c === 0;
    grids.push({ left: colLeft[c], top: top, width: colWidth[c], height: panelH, show: true, borderColor: '#cfcfcf', borderWidth: 1, backgroundColor: '#fff' });
    xAxes.push({
      type: 'log', logBase: 10, min: 0.001, max: 100, gridIndex: idx,
      axisLine: { show: false }, axisTick: { show: false },
      splitLine: { show: true, lineStyle: { color: '#dedede', width: 1 } },
      axisLabel: { show: isBottom, margin: 6, formatter: powLabel, rich: powRich },
      name: isBottom ? '{d|\u0394}{i|I}' : '', nameLocation: 'middle', nameGap: 24,
      nameTextStyle: nameStyle
    });
    yAxes.push({
      type: 'log', logBase: 10, min: 1, max: 100000, gridIndex: idx,
      axisLine: { show: false }, axisTick: { show: false },
      splitLine: { show: true, lineStyle: { color: '#dedede', width: 1 } },
      axisLabel: { show: isLeft, margin: 6, formatter: powLabel, rich: powRich },
      name: isLeft ? '{d|\u0394}{i|A}' : '', nameLocation: 'middle', nameGap: 36, nameRotate: 90,
      nameTextStyle: nameStyle
    });
    graphics.push({
      type: 'text', x: colLeft[c] + colWidth[c] / 2, y: top - 11,
      style: { text: dose, fontFamily: FONT, fontSize: 20, fill: TEXT, textAlign: 'center', textVerticalAlign: 'middle' }
    });

    const [red, green, outer, mid, inner] = panelData[c][r];
    const total = totals[c][r];
    const label = (100 * green.length / total).toFixed(2) + '% (' + green.length + ' of ' + total + ')';

    series.push({
      type: 'scatter', name: exp + ' ' + dose + ' other', xAxisIndex: idx, yAxisIndex: idx,
      data: toLinear(red), symbolSize: 5.5, itemStyle: { color: RED, opacity: 0.5 }, silent: true, z: 2
    });
    series.push({
      type: 'scatter', name: label, xAxisIndex: idx, yAxisIndex: idx,
      data: toLinear(green), symbolSize: 5.5, itemStyle: { color: GREEN, opacity: 0.5 }, silent: true, z: 2
    });
    [outer, mid, inner].forEach((ring, k) => {
      series.push(contourSeries(ring, idx, contourStyles[k], exp + ' ' + dose + ' level ' + k));
    });
    legends.push({
      data: [label], left: colLeft[c] + 23, top: top + 12, icon: 'circle', itemWidth: 6, itemHeight: 6,
      selectedMode: false, textStyle: { fontFamily: FONT, fontSize: 13, color: TEXT, padding: [0, 0, 0, 14] }
    });
  });
});

const chart = echarts.init(document.getElementById('chart'), null, { renderer: 'canvas' });
chart.setOption({
  backgroundColor: '#fff',
  animation: false,
  grid: grids,
  xAxis: xAxes,
  yAxis: yAxes,
  legend: legends,
  series: series,
  graphic: graphics
});
</script>
</body>
</html>
